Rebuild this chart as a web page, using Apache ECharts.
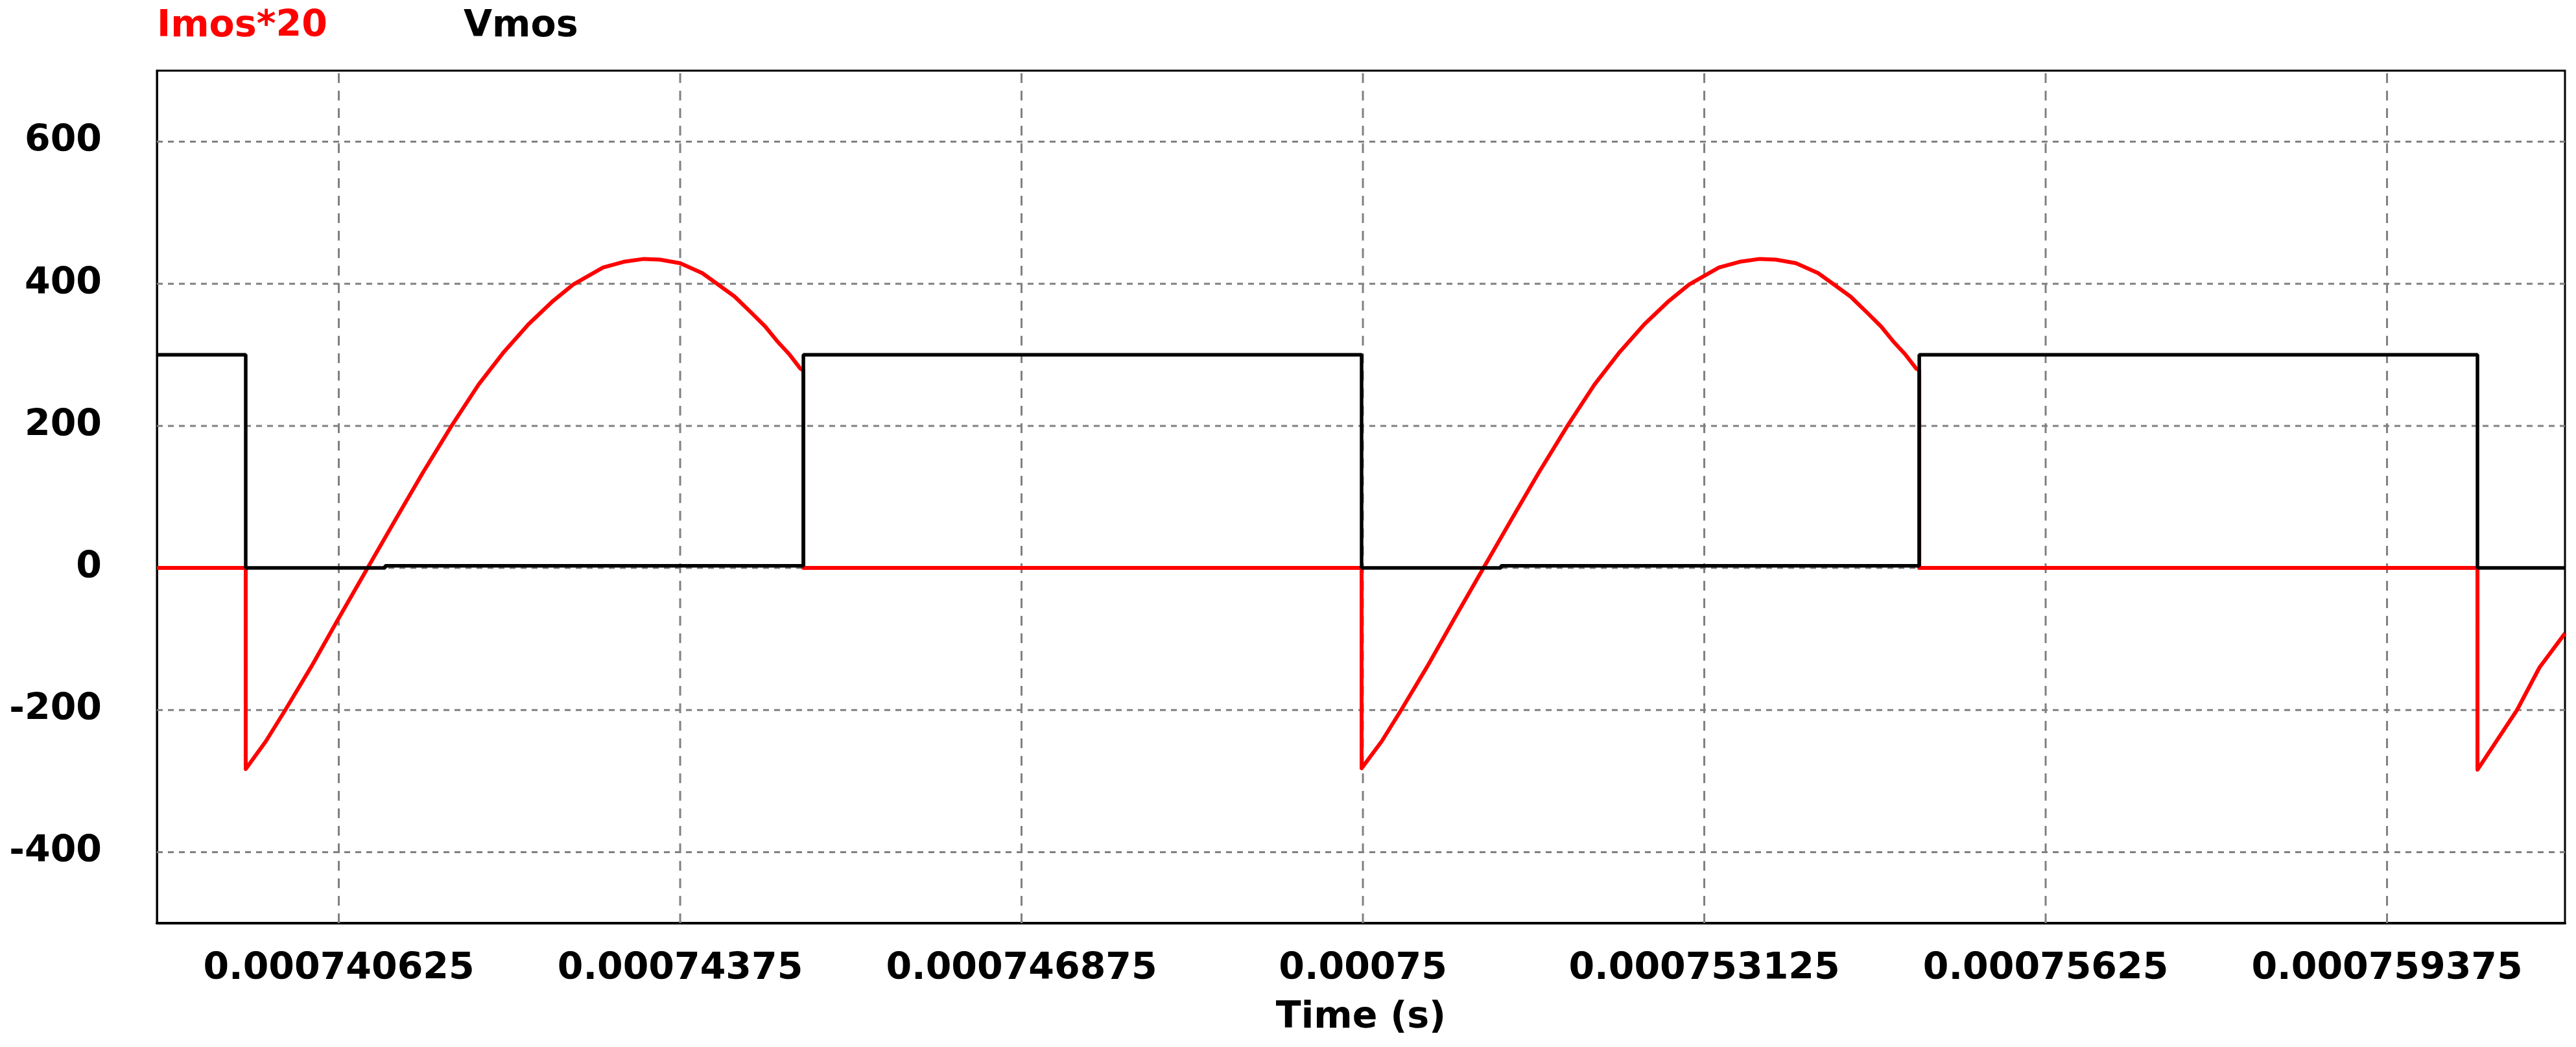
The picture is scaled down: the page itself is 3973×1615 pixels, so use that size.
<!DOCTYPE html>
<html>
<head>
<meta charset="utf-8">
<script src="https://cdn.jsdelivr.net/npm/echarts@6/dist/echarts.min.js"></script>
<style>
  html, body { margin: 0; padding: 0; background: #ffffff; }
  #chart { width: 3973px; height: 1615px; }
</style>
</head>
<body>
<div id="chart"></div>
<script>
// ---- data ----
const seriesNames = ['Imos*20', 'Vmos'];
const seriesColors = ['#ff0000', '#000000'];

const xTicks = [0.000740625, 0.00074375, 0.000746875, 0.00075, 0.000753125, 0.00075625, 0.000759375];
const xTickLabels = ['0.000740625', '0.00074375', '0.000746875', '0.00075', '0.000753125', '0.00075625', '0.000759375'];
const yTicks = [-400, -200, 0, 200, 400, 600];
const xRange = [0.00073896, 0.000761004];
const yRange = [-500, 700];

const imosTime = [
  0.00073896, 0.000739773, 0.000739773, 0.000739957, 0.000740135, 0.000740373, 0.000740616, 0.000740889,
  0.000741144, 0.000741394, 0.000741661, 0.000741904, 0.000742136, 0.000742361, 0.000742587, 0.000742771,
  0.000743044, 0.000743234, 0.000743418, 0.000743566, 0.00074375, 0.000743952, 0.000744088, 0.000744249,
  0.000744403, 0.000744528, 0.000744634, 0.000744753, 0.000744848, 0.000744878, 0.000744878,
  0.000749988, 0.000749988, 0.000750172, 0.00075035, 0.000750588, 0.000750831, 0.000751104,
  0.000751359, 0.000751609, 0.000751876, 0.000752119, 0.000752351, 0.000752576, 0.000752802, 0.000752986,
  0.000753259, 0.000753449, 0.000753633, 0.000753781, 0.000753965, 0.000754167, 0.000754303, 0.000754464,
  0.000754618, 0.000754743, 0.000754849, 0.000754968, 0.000755063, 0.000755093, 0.000755093,
  0.000760203, 0.000760203, 0.000760565, 0.000760771, 0.000761004
];
const imosValue = [
  0, 0, -283, -244, -200, -139, -73, 0,
  68, 134, 201, 258, 304, 343, 376, 399,
  423, 431, 435, 434, 429, 415, 400, 382,
  359, 340, 320, 300, 281, 278, 0,
  0, -282, -244, -200, -139, -73, 0,
  68, 134, 201, 258, 304, 343, 376, 399,
  423, 431, 435, 434, 429, 415, 400, 382,
  359, 340, 320, 300, 281, 278, 0,
  0, -284, -200, -140, -92
];

const vmosTime = [
  0.00073896, 0.000739773, 0.000739773, 0.000741049, 0.000741049, 0.000744878, 0.000744878,
  0.000749988, 0.000749988, 0.000751264, 0.000751264, 0.000755093, 0.000755093,
  0.000760203, 0.000760203, 0.000761004
];
const vmosValue = [
  300, 300, 0, 0, 3, 3, 300,
  300, 0, 0, 3, 3, 300,
  300, 0, 0
];

// ---- chart ----
const FONT = '"DejaVu Sans", "Liberation Sans", Arial, sans-serif';
const zip = (a, b) => a.map((v, i) => [v, b[i]]);
const gridColor = '#808080';

const gridSeries = [
  ...xTicks.map(v => ({
    type: 'line', silent: true, symbol: 'none', showSymbol: false, z: 1,
    data: [[v, yRange[0]], [v, yRange[1]]],
    lineStyle: { color: gridColor, width: 3, type: [15, 12] }
  })),
  ...yTicks.map(v => ({
    type: 'line', silent: true, symbol: 'none', showSymbol: false, z: 1,
    data: [[xRange[0], v], [xRange[1], v]],
    lineStyle: { color: gridColor, width: 3, type: [9, 8] }
  }))
];

const chart = echarts.init(document.getElementById('chart'), null, { renderer: 'canvas' });

const option = {
  animation: false,
  backgroundColor: '#ffffff',
  grid: {
    left: 242, right: 17, top: 109, bottom: 191,
    show: true, borderColor: '#000000', borderWidth: 3, backgroundColor: 'transparent'
  },
  graphic: [
    { type: 'text', x: 242, y: 41, z: 10, style: { text: seriesNames[0], fill: seriesColors[0], font: 'bold 57px ' + FONT, verticalAlign: 'middle', align: 'left' } },
    { type: 'text', x: 715, y: 41, z: 10, style: { text: seriesNames[1], fill: seriesColors[1], font: 'bold 57px ' + FONT, verticalAlign: 'middle', align: 'left' } }
  ],
  xAxis: {
    type: 'value',
    min: xRange[0], max: xRange[1],
    name: 'Time (s)',
    nameLocation: 'middle',
    nameGap: 118,
    nameTextStyle: { color: '#000', fontFamily: FONT, fontWeight: 'bold', fontSize: 57 },
    axisLine: { show: true, onZero: false, lineStyle: { color: '#000', width: 4 } },
    axisTick: { show: false },
    splitLine: { show: false },
    axisLabel: {
      customValues: xTicks,
      showMinLabel: true, showMaxLabel: true,
      margin: 43,
      color: '#000', fontFamily: FONT, fontWeight: 'bold', fontSize: 57,
      formatter: (v) => {
        const i = xTicks.findIndex(t => Math.abs(t - v) < 1e-12);
        return i >= 0 ? xTickLabels[i] : '';
      }
    }
  },
  yAxis: {
    type: 'value',
    min: yRange[0], max: yRange[1],
    axisLine: { show: true, lineStyle: { color: '#000', width: 3 } },
    axisTick: { show: false },
    splitLine: { show: false },
    axisLabel: {
      customValues: yTicks,
      margin: 85,
      color: '#000', fontFamily: FONT, fontWeight: 'bold', fontSize: 57,
      formatter: (v) => (yTicks.indexOf(v) >= 0 ? String(v) : '')
    }
  },
  series: [
    ...gridSeries,
    {
      name: seriesNames[0],
      type: 'line',
      data: zip(imosTime, imosValue),
      showSymbol: false,
      symbol: 'none',
      z: 2,
      lineStyle: { color: seriesColors[0], width: 6, join: 'round' },
      itemStyle: { color: seriesColors[0] }
    },
    {
      name: seriesNames[1],
      type: 'line',
      data: zip(vmosTime, vmosValue),
      showSymbol: false,
      symbol: 'none',
      z: 3,
      lineStyle: { color: seriesColors[1], width: 5.5 },
      itemStyle: { color: seriesColors[1] }
    }
  ]
};

chart.setOption(option);
</script>
</body>
</html>
